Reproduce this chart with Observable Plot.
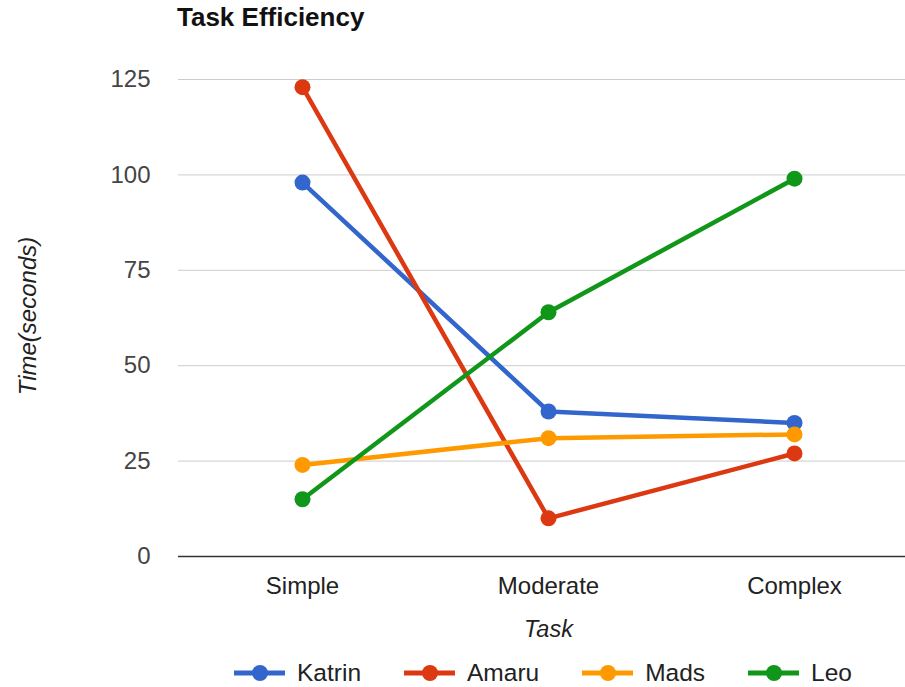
<!DOCTYPE html>
<html>
<head>
<meta charset="utf-8">
<script src="https://cdn.jsdelivr.net/npm/d3@7"></script>
<script src="https://cdn.jsdelivr.net/npm/@observablehq/plot@0.6"></script>
<style>
  body { margin: 0; background: #fff; font-family: "Liberation Sans", Arial, sans-serif; }
  #wrap { position: relative; width: 905px; height: 687px; overflow: hidden; }
  #title { position: absolute; left: 177px; top: 4px; font-size: 26px; font-weight: bold; color: #111; line-height: 1; }
  #chart { position: absolute; left: 0; top: 40px; }
  #legend { position: absolute; left: 234px; top: 659px; display: flex; align-items: center; font-size: 24.5px; color: #222; line-height: 28px; }
  .item { display: flex; align-items: center; margin-right: 43px; }
  .item svg { margin-right: 12px; }
</style>
</head>
<body>
<div id="wrap">
  <div id="title">Task Efficiency</div>
  <div id="chart"></div>
  <div id="legend"></div>
</div>
<script>
const tasks = ["Simple", "Moderate", "Complex"];
const names = ["Katrin", "Amaru", "Mads", "Leo"];
const katrin = [98, 38, 35];
const amaru = [123, 10, 27];
const mads = [24, 31, 32];
const leo = [15, 64, 99];
const colors = ["#3366cc", "#dc3912", "#ff9900", "#109618"];
const yTicks = [0, 25, 50, 75, 100, 125];
const xLabel = "Task";
const yLabel = "Time(seconds)";

const series = [katrin, amaru, mads, leo];
const data = [];
names.forEach((n, i) => tasks.forEach((t, j) => data.push({name: n, task: t, time: series[i][j]})));

const chart = Plot.plot({
  width: 905,
  height: 600,
  marginTop: 39,
  marginBottom: 84,
  marginLeft: 178,
  marginRight: 0,
  style: {fontFamily: '"Liberation Sans", Arial, sans-serif', fontSize: "24px", color: "#444", background: "transparent"},
  x: {type: "point", domain: tasks, padding: 0.5, range: [178, 917], label: null},
  y: {domain: [0, 125], label: null},
  color: {domain: names, range: colors},
  marks: [
    Plot.gridY(yTicks.filter(d => d !== 0), {stroke: "#cccccc", strokeOpacity: 1, strokeWidth: 1}),
    Plot.lineY(data, {x: "task", y: "time", z: "name", stroke: "name", strokeWidth: 4.5}),
    Plot.dot(data, {x: "task", y: "time", fill: "name", r: 8}),
    Plot.ruleY([0], {stroke: "#333", strokeWidth: 1.5}),
    Plot.axisY({ticks: yTicks, tickSize: 0, tickPadding: 28, fontSize: 24, fill: "#444"}),
    Plot.axisX({tickSize: 0, tickPadding: 20, fontSize: 24, fill: "#222"}),
    Plot.text([xLabel], {x: () => "Moderate", frameAnchor: "bottom", lineAnchor: "bottom", dy: 80, fontSize: 23.5, fontStyle: "italic", fill: "#222"}),
    Plot.text([yLabel], {frameAnchor: "left", textAnchor: "middle", rotate: -90, dx: -150, dy: -2, fontSize: 24, fontStyle: "italic", fill: "#222"})
  ]
});
document.getElementById("chart").appendChild(chart);

const legend = document.getElementById("legend");
names.forEach((n, i) => {
  const item = document.createElement("div");
  item.className = "item";
  item.innerHTML = `<svg width="51" height="18"><line x1="0" x2="51" y1="9" y2="9" stroke="${colors[i]}" stroke-width="5"/><circle cx="26" cy="9" r="8" fill="${colors[i]}"/></svg><span>${n}</span>`;
  legend.appendChild(item);
});
</script>
</body>
</html>
